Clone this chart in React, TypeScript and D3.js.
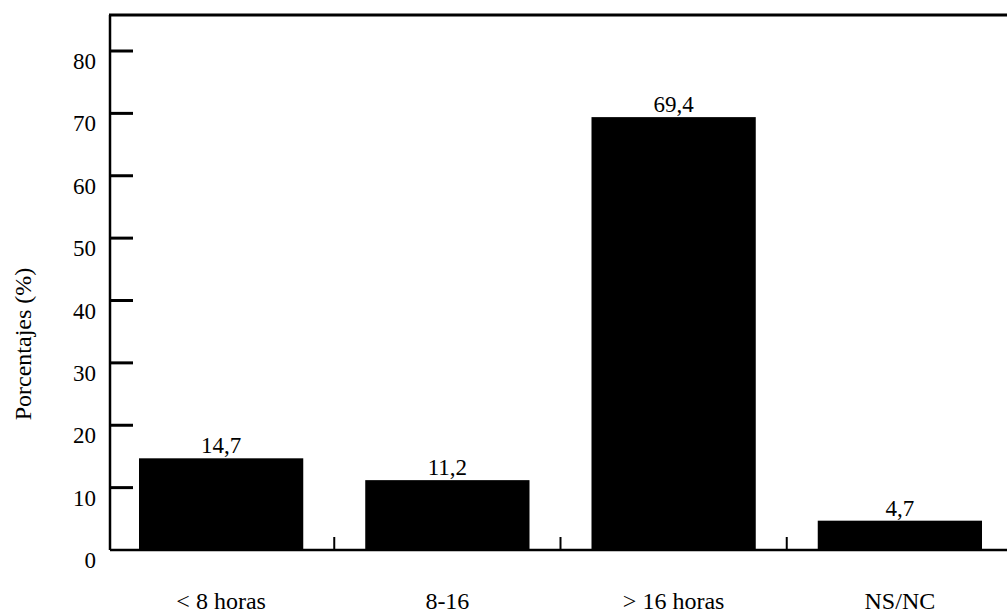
import React from "react";
import * as d3 from "d3";

const categories = ["< 8 horas", "8-16", "> 16 horas", "NS/NC"];
const values = [14.7, 11.2, 69.4, 4.7];
const valueLabels = ["14,7", "11,2", "69,4", "4,7"];
const yTicks = [0, 10, 20, 30, 40, 50, 60, 70, 80];
const yTitle = "Porcentajes (%)";

const W = 1007;
const H = 613;
const FONT = "'Liberation Serif', 'Times New Roman', serif";

export default function App() {
  const x = d3
    .scaleBand<string>()
    .domain(categories)
    .range([108, 1013])
    .paddingInner(0.274)
    .paddingOuter(0.137);
  const y = d3.scaleLinear().domain([0, 80]).range([550, 51]);
  const axisX = 110;
  const topY = 15;
  const step = x.step();
  const divisions = categories.map((_, i) => 108 + step * (i + 1));

  return (
    <div style={{ position: "absolute", left: 0, top: 0 }}>
      <svg width={W} height={H} style={{ display: "block", background: "#fff" }}>
        <line x1={axisX - 1} x2={W + 10} y1={topY} y2={topY} stroke="#000" strokeWidth={3} />
        <line x1={axisX} x2={axisX} y1={topY} y2={y(0)} stroke="#000" strokeWidth={2.5} />
        <line x1={axisX} x2={W + 10} y1={y(0)} y2={y(0)} stroke="#000" strokeWidth={2.5} />
        {yTicks.map((t) => (
          <g key={t}>
            {t > 0 && (
              <line x1={axisX} x2={axisX + 23} y1={y(t)} y2={y(t)} stroke="#000" strokeWidth={3} />
            )}
            <text
              x={96}
              y={y(t) + 18}
              textAnchor="end"
              fontFamily={FONT}
              fontSize={23}
              fill="#000"
            >
              {t}
            </text>
          </g>
        ))}
        {divisions.map((d, i) => (
          <line key={i} x1={d} x2={d} y1={y(0) - 13} y2={y(0)} stroke="#000" strokeWidth={2} />
        ))}
        {categories.map((c, i) => (
          <g key={c}>
            <rect
              x={x(c)}
              y={y(values[i])}
              width={x.bandwidth()}
              height={y(0) - y(values[i])}
              fill="#000"
            />
            <text
              x={(x(c) as number) + x.bandwidth() / 2}
              y={y(values[i]) - 5}
              textAnchor="middle"
              fontFamily={FONT}
              fontSize={23}
              fill="#000"
            >
              {valueLabels[i]}
            </text>
            <text
              x={(x(c) as number) + x.bandwidth() / 2}
              y={609}
              textAnchor="middle"
              fontFamily={FONT}
              fontSize={24}
              fill="#000"
            >
              {c}
            </text>
          </g>
        ))}
        <text
          transform={`translate(31, 344) rotate(-90)`}
          textAnchor="middle"
          fontFamily={FONT}
          fontSize={24}
          fill="#000"
        >
          {yTitle}
        </text>
      </svg>
    </div>
  );
}
